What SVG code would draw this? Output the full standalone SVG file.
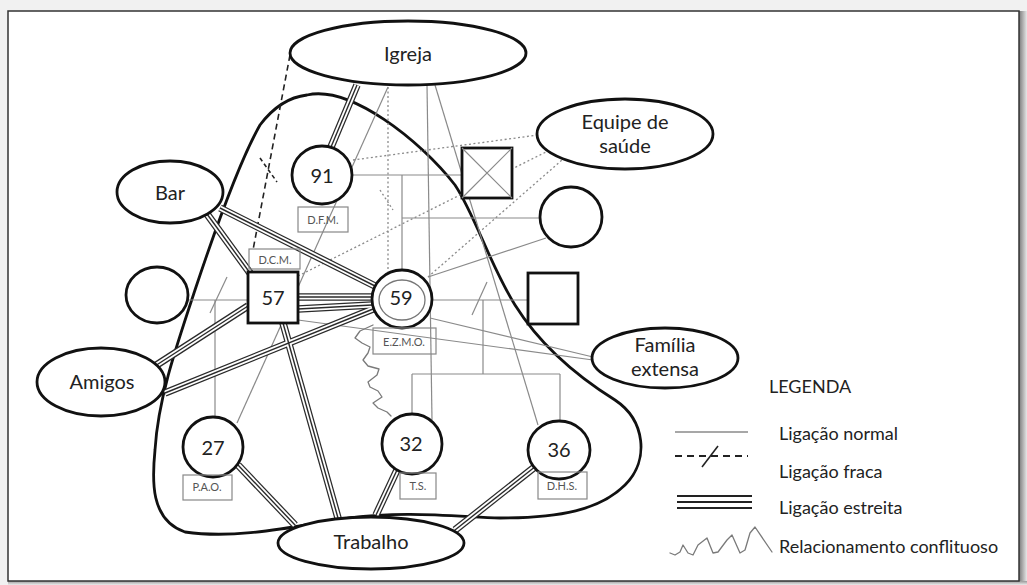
<svg xmlns="http://www.w3.org/2000/svg" width="1027" height="585" viewBox="0 0 1027 585">
<defs>
<linearGradient id="shR" x1="0" x2="1" y1="0" y2="0"><stop offset="0" stop-color="#7a7a7a"/><stop offset="1" stop-color="#e8e8e8"/></linearGradient>
<linearGradient id="shB" x1="0" x2="0" y1="0" y2="1"><stop offset="0" stop-color="#9a9a9a"/><stop offset="1" stop-color="#ececec"/></linearGradient>
<path id="s1" d="M357 85 L331 147"/>
<path id="s2" d="M207 214 L250 273"/>
<path id="s3" d="M220 208 L375 286"/>
<path id="s4" d="M298 297 L372 297"/>
<path id="s5" d="M298 309 L372 305"/>
<path id="s6" d="M248 306 L155 366"/>
<path id="s7" d="M373 309 L165 393"/>
<path id="s8" d="M283 323 L338 518"/>
<path id="s9" d="M238 465 L295 525"/>
<path id="s10" d="M397 470 L376 515"/>
<path id="s11" d="M536 466 L455 530"/>
</defs>
<style>
.bold{fill:#fff;stroke:#111;stroke-width:2.8}
.thin{fill:none;stroke:#8a8a8a;stroke-width:1.2}
.dot{fill:none;stroke:#8a8a8a;stroke-width:1.3;stroke-dasharray:2 2.5}
.dash{fill:none;stroke:#222;stroke-width:1.6;stroke-dasharray:6 4}
.so{fill:none;stroke:#2a2a2a;stroke-width:7.5}
.sw{fill:none;stroke:#fff;stroke-width:5}
.sc{fill:none;stroke:#2a2a2a;stroke-width:1.4}
.lbl{fill:none;stroke:#888;stroke-width:1.2}
.zig{fill:none;stroke:#7a7a7a;stroke-width:1.3;stroke-linejoin:round;stroke-linecap:round}
text{font-family:Lato,"Liberation Sans",sans-serif;fill:#222}
.big{font-size:20px;text-anchor:middle}
.sm{font-size:11px;text-anchor:middle;fill:#555}
.leg{font-size:18px}
</style>
<rect x="0" y="0" width="1027" height="585" fill="#f1f1f1"/>
<rect x="1019" y="11" width="8" height="574" fill="url(#shR)"/>
<rect x="8" y="581" width="1019" height="4" fill="url(#shB)"/>
<rect x="8" y="11" width="1011" height="570" fill="#fff" stroke="#333" stroke-width="1.5"/>

<g id="boundary">
<path d="M307 95 C350 85 420 140 455 185 C475 215 490 265 515 305 C540 345 575 375 615 400 C645 420 650 460 625 485 C600 510 560 518 500 518 C450 516 400 511 350 518 C300 525 240 540 185 532 C150 520 152 480 155 450 C158 400 175 350 195 290 C215 230 240 160 260 125 C275 105 290 97 307 95 Z" fill="none" stroke="#111" stroke-width="2.8"/>
</g>

<g id="connectors">
<g class="thin">
<path d="M388 87 L237 423"/>
<path d="M427 85 L432 420"/>
<path d="M435 85 L538 425"/>
<path d="M353 175 L462 175"/>
<path d="M402 175 L402 270"/>
<path d="M402 218 L541 218"/>
<path d="M428 277 L546 238"/>
<path d="M432 300 L528 300"/>
<path d="M487 282 L472 315"/>
<path d="M483 300 L483 374"/>
<path d="M412 374 L560 374"/>
<path d="M412 374 L412 414"/>
<path d="M560 374 L560 421"/>
<path d="M188 300 L248 300"/>
<path d="M227 277 L210 313"/>
<path d="M215 300 L215 417"/>
<path d="M430 318 L593 357"/>
<path d="M298 320 L593 360"/>
</g>
<g class="dot">
<path d="M388 87 L388 272"/>
<path d="M380 190 L393 210"/>
<path d="M353 160 L538 135"/>
<path d="M298 276 L546 152"/>
<path d="M428 277 L562 160"/>
</g>
<g class="dash">
<path d="M290 55 L253 250"/>
<path d="M260 158 L277 182" stroke-dasharray="4 3"/>
</g>
<g class="so">
<use href="#s1"/><use href="#s2"/><use href="#s3"/><use href="#s4"/><use href="#s5"/><use href="#s6"/><use href="#s7"/><use href="#s8"/><use href="#s9"/><use href="#s10"/><use href="#s11"/>
</g>
<g class="sw">
<use href="#s1"/><use href="#s2"/><use href="#s3"/><use href="#s4"/><use href="#s5"/><use href="#s6"/><use href="#s7"/><use href="#s8"/><use href="#s9"/><use href="#s10"/><use href="#s11"/>
</g>
<g class="sc">
<use href="#s1"/><use href="#s2"/><use href="#s3"/><use href="#s4"/><use href="#s5"/><use href="#s6"/><use href="#s7"/><use href="#s8"/><use href="#s9"/><use href="#s10"/><use href="#s11"/>
</g>
<polyline class="zig" points="373,325 360,331 355,338 362,343 370,347 368,353 363,360 368,366 379,369 377,375 368,382 370,387 378,391 382,397 373,403 378,408 387,412 391,416"/>
</g>

<g id="igreja"><ellipse class="bold" cx="408" cy="53" rx="118" ry="32"/><text class="big" x="408" y="61">Igreja</text></g>
<g id="equipe"><ellipse class="bold" cx="625" cy="134" rx="88" ry="35"/><text class="big" x="625" y="129" font-size="19">Equipe de</text><text class="big" x="625" y="153" font-size="19">saúde</text></g>
<g id="bar"><ellipse class="bold" cx="170" cy="192" rx="53" ry="31"/><text class="big" x="170" y="200">Bar</text></g>
<g id="amigos"><ellipse class="bold" cx="101" cy="382" rx="64" ry="34"/><text class="big" x="102" y="389">Amigos</text></g>
<g id="familia"><ellipse class="bold" cx="665" cy="358" rx="73" ry="30"/><text class="big" x="665" y="352" font-size="19">Família</text><text class="big" x="665" y="376" font-size="19">extensa</text></g>
<g id="trabalho"><ellipse class="bold" cx="371" cy="543" rx="93" ry="26"/><text class="big" x="371" y="549">Trabalho</text></g>

<g id="n91"><ellipse class="bold" cx="322" cy="175" rx="30" ry="29"/><text class="big" x="322" y="183">91</text><rect class="lbl" x="298" y="207" width="50" height="25"/><text class="sm" x="323" y="224">D.F.M.</text></g>
<g id="deceased"><rect class="bold" x="462" y="148" width="50" height="50"/><path class="thin" d="M462 148 L512 198 M512 148 L462 198"/></g>
<g id="sister"><ellipse class="bold" cx="571" cy="217" rx="31" ry="30"/></g>
<g id="n57"><rect class="bold" x="248" y="272" width="50" height="51"/><text class="big" x="273" y="305">57</text><rect class="lbl" x="249" y="249" width="51" height="20"/><text class="sm" x="275" y="264">D.C.M.</text></g>
<g id="n59"><ellipse class="bold" cx="402" cy="299" rx="30" ry="29"/><ellipse cx="402" cy="300" rx="23" ry="20" fill="none" stroke="#777" stroke-width="1.3"/><text class="big" x="401" y="305" font-size="14">59</text><rect class="lbl" x="373" y="328" width="63" height="26"/><text class="sm" x="404" y="346">E.Z.M.O.</text></g>
<g id="exwife"><ellipse class="bold" cx="157" cy="295" rx="31" ry="28"/></g>
<g id="exhusband"><rect class="bold" x="528" y="273" width="50" height="51"/></g>
<g id="n27"><circle class="bold" cx="213" cy="447" r="30"/><text class="big" x="213" y="455">27</text><rect class="lbl" x="183" y="475" width="49" height="25"/><text class="sm" x="207" y="491">P.A.O.</text></g>
<g id="n32"><circle class="bold" cx="412" cy="444" r="30"/><text class="big" x="411" y="451">32</text><rect class="lbl" x="400" y="473" width="36" height="26"/><text class="sm" x="418" y="490">T.S.</text></g>
<g id="n36"><ellipse class="bold" cx="559" cy="450" rx="31" ry="29"/><text class="big" x="559" y="457">36</text><rect class="lbl" x="538" y="472" width="49" height="27"/><text class="sm" x="562" y="490">D.H.S.</text></g>

<g id="legend">
<text class="leg" x="769" y="393" font-size="19">LEGENDA</text>
<line x1="675" y1="432" x2="748" y2="432" stroke="#8a8a8a" stroke-width="1.3"/>
<line x1="675" y1="456" x2="748" y2="456" stroke="#222" stroke-width="1.8" stroke-dasharray="7 5"/>
<line x1="702" y1="467" x2="718" y2="446" stroke="#222" stroke-width="1.6"/>
<g stroke="#222" stroke-width="2.2"><line x1="677" y1="496" x2="752" y2="496"/><line x1="677" y1="502" x2="752" y2="502"/><line x1="677" y1="508" x2="752" y2="508"/></g>
<polyline class="zig" points="670,553 675,555 680,552 683,545 688,553 693,555 698,545 707,538 713,553 718,552 727,540 732,535 740,553 745,550 750,533 755,527 772,552"/>
<text class="leg" x="779" y="440">Ligação normal</text>
<text class="leg" x="779" y="478">Ligação fraca</text>
<text class="leg" x="779" y="514">Ligação estreita</text>
<text class="leg" x="779" y="553">Relacionamento conflituoso</text>
</g>
</svg>
